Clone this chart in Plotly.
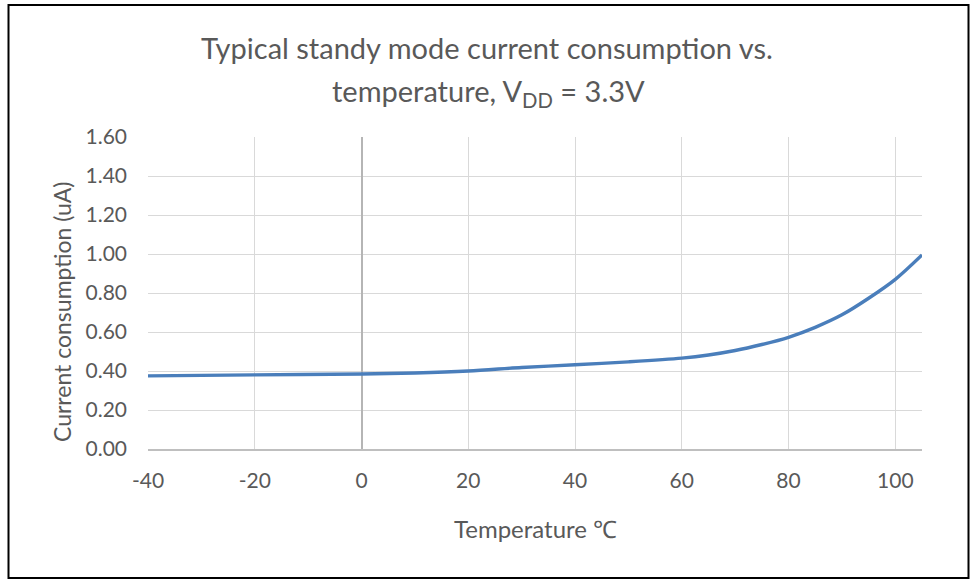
import plotly.graph_objects as go

temperature = [-40, -20, 0, 10, 20, 30, 40, 50, 60, 65, 70, 75, 80, 85, 90, 95, 100, 105]
current_uA = [0.375, 0.38, 0.385, 0.39, 0.40, 0.418, 0.432, 0.447, 0.466, 0.482, 0.505, 0.536,
              0.573, 0.624, 0.688, 0.773, 0.870, 0.995]

x_ticks = [-40, -20, 0, 20, 40, 60, 80, 100]
y_ticks = [0.0, 0.2, 0.4, 0.6, 0.8, 1.0, 1.2, 1.4, 1.6]

title_line1 = "Typical standy mode current consumption vs."
title_line2 = "temperature, V<sub>DD</sub> = 3.3V"
x_title = "Temperature ℃"
y_title = "Current consumption (uA)"

W, H = 970, 581
L, R, T, B = 148, 48, 137, 132
pw, ph = W - L - R, H - T - B

def px_x(p):
    return (p - L) / pw

def px_y(p):
    return (H - B - p) / ph

FONT = "Lato"
GRAY = "#595959"

fig = go.Figure()
fig.add_trace(go.Scatter(
    x=temperature, y=current_uA, mode="lines",
    line=dict(color="#4A7EBB", width=3.4, shape="spline", smoothing=0.9),
    showlegend=False, hoverinfo="x+y",
))

fig.update_layout(
    width=W, height=H,
    margin=dict(l=L, r=R, t=T, b=B),
    paper_bgcolor="white", plot_bgcolor="white",
    font=dict(family=FONT, color=GRAY),
    xaxis=dict(
        range=[-40, 105], tickvals=x_ticks, ticktext=[str(v) for v in x_ticks],
        showgrid=True, gridcolor="#D9D9D9", gridwidth=1.3,
        zeroline=True, zerolinecolor="#B5B5B5", zerolinewidth=1.6,
        showline=True, linecolor="#BFBFBF", linewidth=1.5,
        ticks="", ticklabelstandoff=12,
        tickfont=dict(family=FONT, size=21, color=GRAY),
        fixedrange=True,
    ),
    yaxis=dict(
        range=[0, 1.6], tickvals=y_ticks, ticktext=[f"{v:.2f}" for v in y_ticks],
        showgrid=True, gridcolor="#D9D9D9", gridwidth=1.3,
        zeroline=False, showline=False,
        ticks="", ticklabelstandoff=20,
        tickfont=dict(family=FONT, size=21, color=GRAY),
        fixedrange=True,
    ),
)

ann_font_title = dict(family=FONT, size=29, color=GRAY)
ann_font_axis = dict(family=FONT, size=23, color=GRAY)
fig.add_annotation(text=title_line1, xref="paper", yref="paper", x=px_x(487), y=px_y(48),
                   xanchor="center", yanchor="middle", showarrow=False, font=ann_font_title)
fig.add_annotation(text=title_line2, xref="paper", yref="paper", x=px_x(488), y=px_y(92),
                   xanchor="center", yanchor="middle", showarrow=False, font=ann_font_title)
fig.add_annotation(text=x_title, xref="paper", yref="paper", x=px_x(535), y=px_y(528),
                   xanchor="center", yanchor="middle", showarrow=False,
                   font=dict(family=FONT, size=24, color=GRAY))
fig.add_annotation(text=y_title, xref="paper", yref="paper", x=px_x(62), y=px_y(312),
                   xanchor="center", yanchor="middle", showarrow=False, textangle=-90,
                   font=ann_font_axis)

fig.add_shape(
    type="rect", xref="paper", yref="paper",
    x0=px_x(8.5), x1=px_x(968.5), y0=px_y(578), y1=px_y(5),
    line=dict(color="black", width=2), fillcolor="rgba(0,0,0,0)", layer="below",
)

fig.write_html(
    "out.html",
    config={"displayModeBar": False},
    post_script="document.body.style.margin='0';document.body.style.overflow='hidden';",
)
